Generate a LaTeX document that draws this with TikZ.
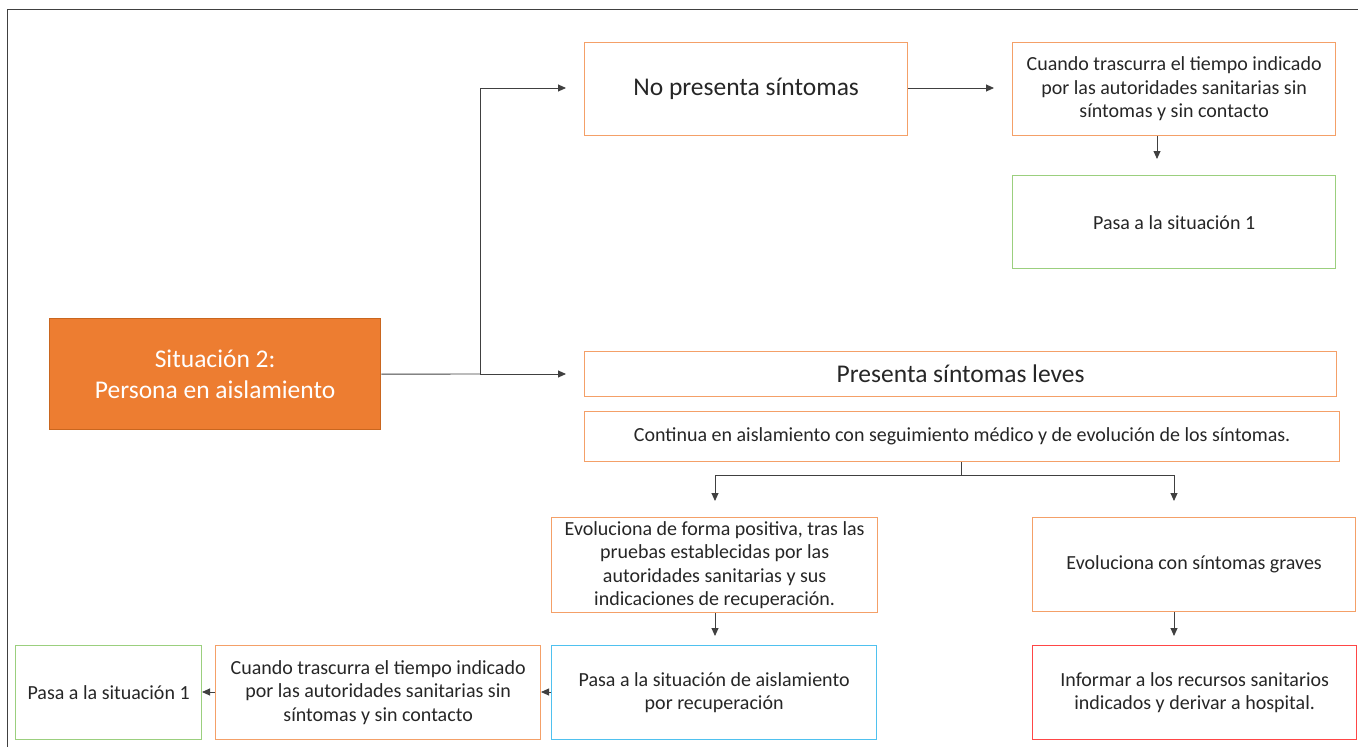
\documentclass[tikz,border=0pt]{standalone}
\usepackage{fontspec}
\setmainfont{Carlito}
\usetikzlibrary{arrows.meta}
\definecolor{orfill}{HTML}{ED7D31}
\definecolor{ordraw}{HTML}{C9661F}
\definecolor{orline}{HTML}{F4A068}
\definecolor{grline}{HTML}{9BCF7E}
\definecolor{blline}{HTML}{4FC1EF}
\definecolor{rdline}{HTML}{FF4646}
\definecolor{conn}{HTML}{404040}
\definecolor{txt}{HTML}{262626}
\tikzset{
  box/.style={draw=#1, line width=1.3pt, text=txt, align=center, inner sep=0pt,
    font=\fontsize{20}{23.5}\selectfont},
  bigbox/.style={box=#1, font=\fontsize{25.5}{31}\selectfont},
  conn/.style={draw=conn, line width=0.9pt, -{Triangle[length=8pt,width=7pt]}},
  plain/.style={draw=conn, line width=0.9pt},
}
\begin{document}
\begin{tikzpicture}[x=1pt,y=-1pt]
\useasboundingbox (0,0) rectangle (1358,747);
\draw[plain, line width=1pt] (1358,9) -- (7,9) -- (7,747);

\node[bigbox=ordraw, fill=orfill, text=white, minimum width=331pt, minimum height=111pt, anchor=north west] (main) at (49,318) {Situación 2:\\Persona en aislamiento};

\node[bigbox=orline, minimum width=323pt, minimum height=93pt, anchor=north west] (nps) at (584,42) {No presenta síntomas};
\node[box=orline, minimum width=323pt, minimum height=93pt, anchor=north west] (c1) at (1012,42) {Cuando trascurra el tiempo indicado\\por las autoridades sanitarias sin\\síntomas y sin contacto};
\node[box=grline, minimum width=323pt, minimum height=93pt, anchor=north west] (s1a) at (1012,175) {Pasa a la situación 1};

\node[bigbox=orline, minimum width=752pt, minimum height=45pt, anchor=north west] (psl) at (584,351) {Presenta síntomas leves};
\node[box=orline, minimum width=755pt, minimum height=50pt, anchor=north west] (cont) at (584,411) {Continua en aislamiento con seguimiento médico y de evolución de los síntomas.};

\node[box=orline, minimum width=326pt, minimum height=95pt, anchor=north west] (pos) at (551,517) {Evoluciona de forma positiva, tras las\\pruebas establecidas por las\\autoridades sanitarias y sus\\indicaciones de recuperación.};
\node[box=orline, minimum width=323pt, minimum height=94pt, anchor=north west] (grav) at (1032,517) {Evoluciona con síntomas graves};

\node[box=blline, minimum width=325pt, minimum height=94pt, anchor=north west] (rec) at (551,645) {Pasa a la situación de aislamiento\\por recuperación};
\node[box=rdline, minimum width=324pt, minimum height=94pt, anchor=north west] (inf) at (1032,645) {Informar a los recursos sanitarios\\indicados y derivar a hospital.};
\node[box=orline, minimum width=325pt, minimum height=94pt, anchor=north west] (c2) at (215,645) {Cuando trascurra el tiempo indicado\\por las autoridades sanitarias sin\\síntomas y sin contacto};
\node[box=grline, minimum width=186pt, minimum height=94pt, anchor=north west] (s1b) at (15,645) {Pasa a la situación 1};

% connectors
\coordinate (j1) at (480,374);
\coordinate (t1) at (566,88);
\coordinate (t2) at (566,374);
\draw[plain] (main.east) -- (j1);
\draw[conn] (j1) |- (t1);
\draw[conn] (j1) -- (t2);

\coordinate (t3) at (994,88);
\draw[conn] (nps.east |- t3) -- (t3);
\coordinate (a1) at (1157,159);
\draw[conn] (c1.south -| a1) -- (a1);

\coordinate (j2) at (961,475);
\coordinate (a2) at (715,501);
\coordinate (a3) at (1174,501);
\draw[plain] (cont.south -| j2) -- (j2);
\draw[conn] (j2) -| (a2);
\draw[conn] (j2) -| (a3);

\coordinate (a4) at (715,636);
\coordinate (a5) at (1174,636);
\draw[conn] (pos.south -| a4) -- (a4);
\draw[conn] (grav.south -| a5) -- (a5);

\coordinate (a6) at (541,692);
\coordinate (a7) at (202,692);
\draw[conn] (rec.west |- a6) -- (a6);
\draw[conn] (c2.west |- a7) -- (a7);
\end{tikzpicture}
\end{document}
